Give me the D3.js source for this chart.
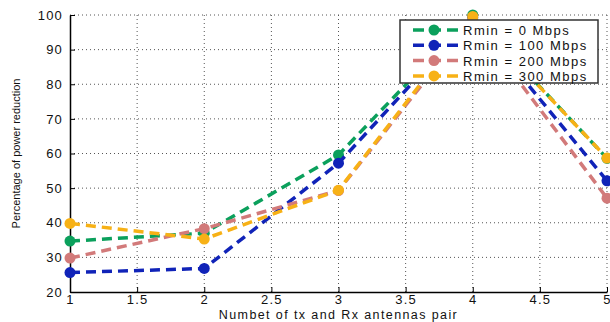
<!DOCTYPE html>
<html>
<head>
<meta charset="utf-8">
<script src="https://cdn.jsdelivr.net/npm/d3@7"></script>
<style>
  body { margin: 0; background: #fff; }
  text { font-family: "Liberation Sans", Arial, sans-serif; }
</style>
</head>
<body>
<div id="chart"></div>
<script>
// data
const antennaPairs = [1, 2, 3, 4, 5];
const seriesNames = ["Rmin = 0 Mbps", "Rmin = 100 Mbps", "Rmin = 200 Mbps", "Rmin = 300 Mbps"];
const rmin0 = [34.7, 37.0, 59.6, 100, 58.6];
const rmin100 = [25.6, 26.8, 57.2, 99.3, 52.1];
const rmin200 = [29.8, 38.3, 49.3, 98.5, 47.1];
const rmin300 = [39.8, 35.3, 49.4, 99.6, 58.7];
const seriesColors = ["#0ba05c", "#1023b8", "#d27a7a", "#f7b116"];
const xTicks = [1, 1.5, 2, 2.5, 3, 3.5, 4, 4.5, 5];
const yTicks = [20, 30, 40, 50, 60, 70, 80, 90, 100];

const series = [rmin0, rmin100, rmin200, rmin300];

const W = 610, H = 322;
const margin = {top: 15, right: 3, bottom: 30, left: 70};
const width = W - margin.left - margin.right,
    height = H - margin.top - margin.bottom;

const svg = d3.select("#chart")
    .append("svg")
    .attr("width", W)
    .attr("height", H);

const g = svg.append("g")
    .attr("transform", `translate(${margin.left},${margin.top})`);

const x = d3.scaleLinear().domain([1, 5]).range([0, width]);
const y = d3.scaleLinear().domain([20, 100]).range([height, 0]);

// grid
g.append("g")
    .selectAll("line")
    .data(xTicks.slice(1))
    .join("line")
    .attr("x1", d => x(d)).attr("x2", d => x(d))
    .attr("y1", 0).attr("y2", height)
    .attr("stroke", "#555")
    .attr("stroke-width", 1)
    .attr("stroke-dasharray", "1,3");

g.append("g")
    .selectAll("line")
    .data(yTicks.slice(1))
    .join("line")
    .attr("x1", 0).attr("x2", width)
    .attr("y1", d => y(d)).attr("y2", d => y(d))
    .attr("stroke", "#555")
    .attr("stroke-width", 1)
    .attr("stroke-dasharray", "1,3");

// axes
const xAxis = g.append("g")
    .attr("transform", `translate(0,${height})`)
    .call(d3.axisBottom(x).tickValues(xTicks).tickSizeInner(-5).tickSizeOuter(0).tickPadding(3).tickFormat(d3.format("")));
const yAxis = g.append("g")
    .call(d3.axisLeft(y).tickValues(yTicks).tickSizeInner(-5).tickSizeOuter(0).tickPadding(7));

[xAxis, yAxis].forEach(a => {
    a.select(".domain").attr("stroke", "#000").attr("stroke-width", 1.5);
    a.selectAll(".tick line").attr("stroke", "#000");
    a.selectAll(".tick text")
        .attr("fill", "#111")
        .style("font-size", "13px")
        .style("letter-spacing", "1.2px");
});

// axis labels
svg.append("text")
    .attr("x", margin.left + width / 2)
    .attr("y", 319)
    .attr("text-anchor", "middle")
    .style("font-size", "12.5px")
    .style("letter-spacing", "1.4px")
    .attr("fill", "#111")
    .text("Numbet of tx and Rx antennas pair");

svg.append("text")
    .attr("transform", `translate(20,${margin.top + height / 2}) rotate(-90)`)
    .attr("text-anchor", "middle")
    .style("font-size", "11px")
    .attr("fill", "#111")
    .text("Percentage of power reduction");

// lines
const line = d3.line()
    .x((d, i) => x(antennaPairs[i]))
    .y(d => y(d));

series.forEach((s, k) => {
    g.append("path")
        .datum(s)
        .attr("fill", "none")
        .attr("stroke", seriesColors[k])
        .attr("stroke-width", 3.5)
        .attr("stroke-dasharray", "10,6")
        .attr("d", line);
    g.append("g")
        .selectAll("circle")
        .data(s)
        .join("circle")
        .attr("cx", (d, i) => x(antennaPairs[i]))
        .attr("cy", d => y(d))
        .attr("r", 5.5)
        .attr("fill", seriesColors[k]);
});

// legend
const legend = svg.append("g").attr("transform", "translate(400,20)");
legend.append("rect")
    .attr("width", 198).attr("height", 63)
    .attr("fill", "#fff")
    .attr("stroke", "#333")
    .attr("stroke-width", 1.5);

seriesNames.forEach((name, k) => {
    const row = legend.append("g").attr("transform", `translate(0,${10 + k * 15.3})`);
    row.append("line")
        .attr("x1", 13).attr("x2", 58)
        .attr("stroke", seriesColors[k])
        .attr("stroke-width", 3.5)
        .attr("stroke-dasharray", "11,6");
    row.append("circle")
        .attr("cx", 34).attr("r", 5.5)
        .attr("fill", seriesColors[k]);
    row.append("text")
        .attr("x", 63).attr("y", 5)
        .style("font-size", "13px")
        .style("letter-spacing", "1.5px")
        .attr("fill", "#111")
        .text(name);
});
</script>
</body>
</html>
